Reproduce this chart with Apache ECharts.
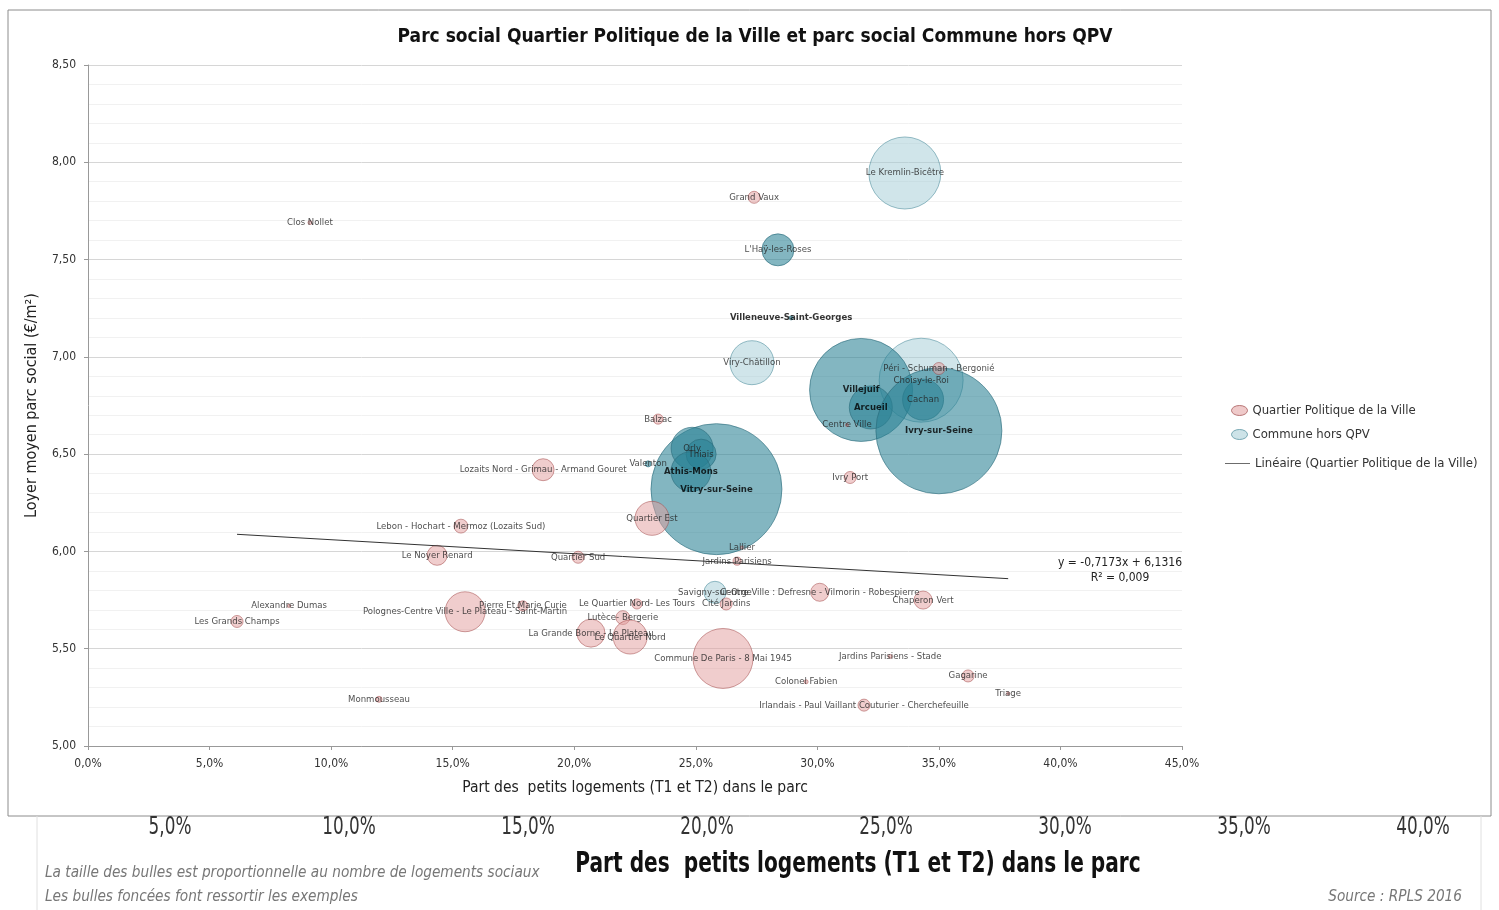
<!DOCTYPE html>
<html><head><meta charset="utf-8">
<script src="https://cdn.jsdelivr.net/npm/echarts@6/dist/echarts.min.js"></script>
<style>html,body{margin:0;padding:0;background:#fff}#c{width:1499px;height:910px}</style>
</head><body><div id="c"></div>
<script>
// ---- Data: Quartier Politique de la Ville (QPV) ----
const qpvNames = ["Clos Nollet","Grand Vaux","Péri - Schuman - Bergonié","Balzac","Lozaits Nord - Grimau - Armand Gouret","Ivry Port","Quartier Est","Lebon - Hochart - Mermoz (Lozaits Sud)","Le Noyer Renard","Quartier Sud","Lallier","Jardins Parisiens","Centre Ville : Defresne - Vilmorin - Robespierre","Chaperon Vert","Cité Jardins","Le Quartier Nord- Les Tours","Pierre Et Marie Curie","Polognes-Centre Ville - Le Plateau - Saint-Martin","Alexandre Dumas","Les Grands Champs","Lutèce- Bergerie","La Grande Borne - Le Plateau","Le Quartier Nord","Commune De Paris - 8 Mai 1945","Jardins Parisiens - Stade","Gagarine","Colonel Fabien","Triage","Irlandais - Paul Vaillant Couturier - Cherchefeuille","Monmousseau","Centre Ville"];
const qpvPart = [9.13,27.4,35.0,23.45,18.72,31.35,23.2,15.34,14.36,20.16,26.9,26.7,30.1,34.35,26.25,22.58,17.89,15.51,8.27,6.13,22.0,20.69,22.3,26.12,33.0,36.2,29.54,37.85,31.92,11.97,31.22];
const qpvLoyer = [7.69,7.82,6.94,6.68,6.42,6.38,6.17,6.13,5.98,5.97,6.02,5.95,5.79,5.75,5.73,5.73,5.72,5.69,5.72,5.64,5.66,5.58,5.56,5.45,5.46,5.36,5.33,5.27,5.21,5.24,6.65];
const qpvLogements = [13,120,120,85,400,120,955,160,330,120,8,55,270,270,120,85,85,1320,8,120,160,650,955,2975,13,120,13,8,120,30,8];

// ---- Data: Communes hors QPV ----
const comNames = ["Le Kremlin-Bicêtre","L'Haÿ-les-Roses","Villeneuve-Saint-Georges","Viry-Châtillon","Choisy-le-Roi","Villejuif","Cachan","Arcueil","Ivry-sur-Seine","Vitry-sur-Seine","Orly","Thiais","Athis-Mons","Valenton","Savigny-sur-Orge"];
const comPart = [33.6,28.38,28.92,27.31,34.27,31.8,34.35,32.2,35.0,25.85,24.85,25.22,24.8,23.04,25.79];
const comLoyer = [7.945,7.55,7.20,6.97,6.88,6.83,6.78,6.74,6.62,6.32,6.53,6.50,6.41,6.45,5.79];
const comLogements = [4285,846,13,1600,5830,8770,1390,1530,13120,14180,1460,744,1320,30,400];
const comExemple = [0,1,1,0,0,1,1,1,1,1,1,1,1,1,0]; // 1 = bulle foncée (exemple)
const comBoldLabel = [0,0,1,0,0,1,0,1,1,1,0,0,1,0,0];

// ---- Trend line (Linéaire QPV) ----
const trendPart = [6.13, 37.85];
const trendLoyer = [6.088, 5.860];
const trendEquation = "y = -0,7173x + 6,1316";
const trendR2 = "R² = 0,009";

// ---- Texts ----
const titleText = "Parc social Quartier Politique de la Ville et parc social Commune hors QPV";
const xName = "Part des  petits logements (T1 et T2) dans le parc";
const yName = "Loyer moyen parc social (€/m²)";
const bottomTicks = ["5,0%","10,0%","15,0%","20,0%","25,0%","30,0%","35,0%","40,0%"];
const noteLines = ["La taille des bulles est proportionnelle au nombre de logements sociaux","Les bulles foncées font ressortir les exemples"];
const sourceText = "Source : RPLS 2016";

const NARROW = "'Liberation Sans Narrow','Arial Narrow','DejaVu Sans Condensed','Liberation Sans',sans-serif";

const sizeFn = v => Math.max(3, Math.sqrt(v[2]) * 1.1);

const qpvData = qpvNames.map((n,i)=>({name:n, value:[qpvPart[i], qpvLoyer[i], qpvLogements[i]]}));
const comData = comNames.map((n,i)=>({
  name:n, value:[comPart[i], comLoyer[i], comLogements[i]],
  itemStyle: comExemple[i] ? {color:'rgba(40,128,148,0.72)', borderColor:'#2c6c7c'} : {color:'rgba(165,205,214,0.65)', borderColor:'#5a95a3'},
  label: {fontWeight: comBoldLabel[i] ? 'bold' : 'normal', color: comBoldLabel[i] ? '#000' : '#222'}
}));

const bottomGraphics = bottomTicks.map((t,i)=>({
  type:'text', x: 170 + i*179, y: 828, scaleX:0.78,
  style:{text:t, font:"24px "+NARROW, fill:'#333', textAlign:'center', textVerticalAlign:'middle'}
}));

const chart = echarts.init(document.getElementById('c'));
chart.setOption({
  animation:false,
  backgroundColor:'#fff',
  title:{text:titleText, left:750, top:23, textAlign:'center',
    textStyle:{fontFamily:NARROW, fontSize:19, fontWeight:'bold', color:'#111'}},
  grid:{left:88, top:65, width:1094, height:681, containLabel:false},
  legend:[{
    orient:'vertical', left:1226, top:399, itemWidth:16, itemHeight:10, itemGap:11,
    textStyle:{fontFamily:NARROW, fontSize:13, color:'#333'},
    data:[
      {name:'Quartier Politique de la Ville', icon:'path://M0,5 A8,5 0 1,1 16,5 A8,5 0 1,1 0,5 Z', itemStyle:{color:'rgba(226,160,160,0.7)', borderColor:'#a85a5a', borderWidth:1}},
      {name:'Commune hors QPV', icon:'path://M0,5 A8,5 0 1,1 16,5 A8,5 0 1,1 0,5 Z', itemStyle:{color:'rgba(165,205,214,0.7)', borderColor:'#5a95a3', borderWidth:1}}
    ]
  },{
    orient:'vertical', left:1220, top:452, itemWidth:25, itemHeight:10,
    textStyle:{fontFamily:NARROW, fontSize:13, color:'#333'},
    data:[{name:'Linéaire (Quartier Politique de la Ville)', icon:'path://M0,0 H26 V1 H0 Z', itemStyle:{color:'#666'}}]
  }],
  xAxis:{type:'value', min:0, max:45, interval:5,
    name:xName, nameLocation:'middle', nameGap:34,
    nameTextStyle:{fontFamily:NARROW, fontSize:15.5, color:'#222'},
    axisLine:{show:true, lineStyle:{color:'#999'}},
    axisTick:{show:true, length:4, lineStyle:{color:'#999'}},
    axisLabel:{fontFamily:NARROW, fontSize:12, color:'#333', margin:12,
      formatter:v=>v.toFixed(1).replace('.',',')+'%'},
    splitLine:{show:false}},
  yAxis:{type:'value', min:5, max:8.5, interval:0.5,
    name:yName, nameLocation:'middle', nameGap:48,
    nameTextStyle:{fontFamily:NARROW, fontSize:16, color:'#222'},
    axisLine:{show:true, lineStyle:{color:'#999'}},
    axisTick:{show:true, length:4, lineStyle:{color:'#999'}},
    axisLabel:{fontFamily:NARROW, fontSize:12, color:'#333', margin:12,
      formatter:v=>v.toFixed(2).replace('.',',')},
    splitLine:{show:true, lineStyle:{color:'#d6d6d6', width:1}},
    minorTick:{show:false, splitNumber:5},
    minorSplitLine:{show:true, lineStyle:{color:'#f1f1f1', width:1}}},
  series:[
    {type:'scatter', name:'Quartier Politique de la Ville', data:qpvData, symbolSize:sizeFn,
      itemStyle:{color:'rgba(226,160,160,0.65)', borderColor:'rgba(160,70,70,0.8)', borderWidth:0.8},
      label:{show:true, position:'inside', formatter:p=>p.name, fontFamily:NARROW, fontSize:9.5, color:'#222'},
      z:3},
    {type:'scatter', name:'Commune hors QPV', data:comData, symbolSize:sizeFn,
      itemStyle:{borderWidth:0.8},
      label:{show:true, position:'inside', formatter:p=>p.name, fontFamily:NARROW, fontSize:9.5},
      z:2},
    {type:'line', name:'Linéaire (Quartier Politique de la Ville)', data:trendPart.map((x,i)=>[x,trendLoyer[i]]),
      symbol:'none', lineStyle:{color:'#333', width:1}, z:4, silent:true}
  ],
  graphic:[
    {type:'rect', shape:{x:8, y:10, width:1483, height:806}, style:{fill:'none', stroke:'#8c8c8c', lineWidth:1}, z:-1},
    {type:'line', shape:{x1:37, y1:816, x2:37, y2:910}, style:{stroke:'#e0e0e0', lineWidth:1}},
    {type:'line', shape:{x1:1481, y1:816, x2:1481, y2:910}, style:{stroke:'#e0e0e0', lineWidth:1}},
    {type:'text', x:1120, y:563, style:{text:trendEquation, font:"12px "+NARROW, fill:'#222', textAlign:'center', textVerticalAlign:'middle'}},
    {type:'text', x:1120, y:578, style:{text:trendR2, font:"12px "+NARROW, fill:'#222', textAlign:'center', textVerticalAlign:'middle'}},
    ...bottomGraphics,
    {type:'text', x:858, y:865, scaleX:0.8, style:{text:xName, font:"bold 28px "+NARROW, fill:'#111', textAlign:'center', textVerticalAlign:'middle'}},
    {type:'text', x:45, y:873, scaleX:0.95, style:{text:noteLines[0], font:"italic 16px "+NARROW, fill:'#777', textVerticalAlign:'middle'}},
    {type:'text', x:45, y:897, scaleX:0.95, style:{text:noteLines[1], font:"italic 16px "+NARROW, fill:'#777', textVerticalAlign:'middle'}},
    {type:'text', x:1462, y:897, scaleX:0.95, style:{text:sourceText, font:"italic 16px "+NARROW, fill:'#777', textAlign:'right', textVerticalAlign:'middle'}}
  ]
});
</script></body></html>
